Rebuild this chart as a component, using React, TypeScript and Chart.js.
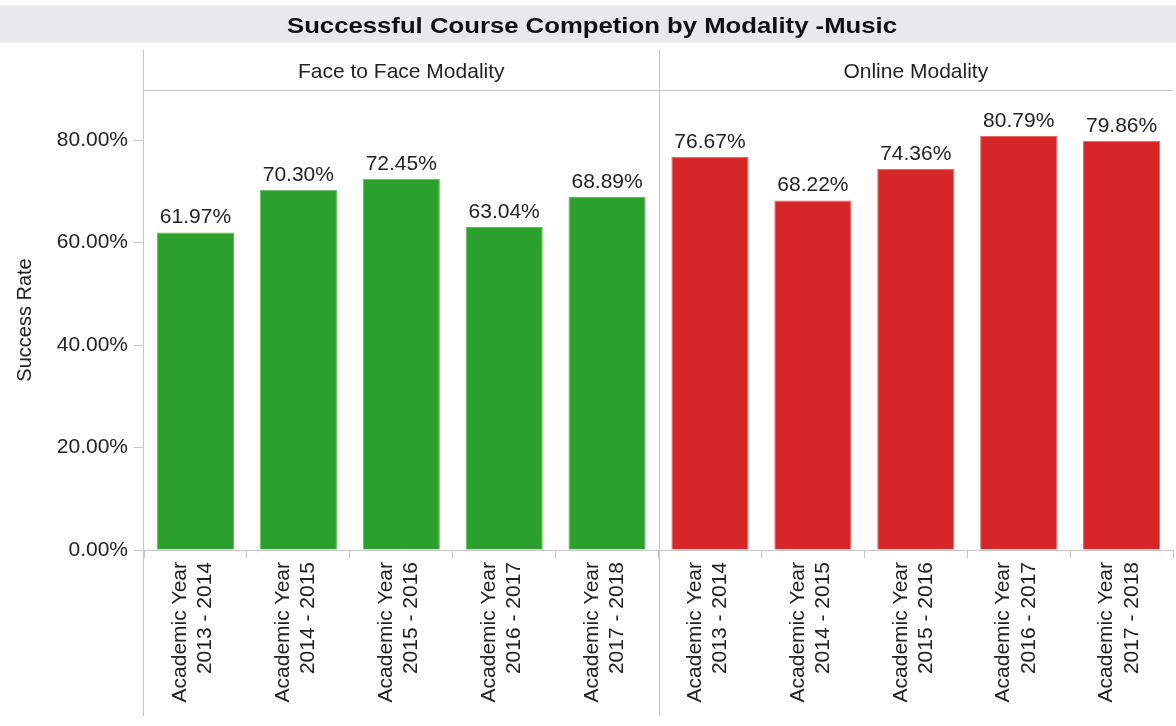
import React, { useEffect, useRef } from "react";
import { Chart, registerables } from "chart.js";

Chart.register(...registerables);

const chartTitle = "Successful Course Competion by Modality -Music";
const panelTitles = ["Face to Face Modality", "Online Modality"];
const years = [
  ["Academic Year", "2013 - 2014"],
  ["Academic Year", "2014 - 2015"],
  ["Academic Year", "2015 - 2016"],
  ["Academic Year", "2016 - 2017"],
  ["Academic Year", "2017 - 2018"],
];
const faceToFace = [61.97, 70.3, 72.45, 63.04, 68.89];
const online = [76.67, 68.22, 74.36, 80.79, 79.86];
const yTicksMax = 89.76;

const FONT = '"Liberation Sans", Arial, Helvetica, sans-serif';
const GREEN = "#2ca02c";
const RED = "#d62728";
const LINE = "#c4c4c4";

const decorPlugin = {
  id: "decor",
  beforeDraw(chart: any) {
    const { ctx, chartArea, width } = chart;
    const xs = chart.scales.x;
    ctx.save();
    // title band
    ctx.fillStyle = "#e8e9ed";
    ctx.fillRect(0, 5, width, 38);
    ctx.font = `bold 21.5px ${FONT}`;
    ctx.fillStyle = "#111";
    ctx.textBaseline = "alphabetic";
    ctx.textAlign = "center";
    const w = ctx.measureText(chartTitle).width;
    const sx = 610 / w;
    ctx.translate(592, 32.5);
    ctx.scale(sx, 1);
    ctx.fillText(chartTitle, 0, 0);
    ctx.restore();

    ctx.save();
    const n = faceToFace.length;
    const divider = (xs.getPixelForValue(n - 1) + xs.getPixelForValue(n)) / 2;
    const left = chartArea.left;
    const right = chartArea.right;
    // panel headers
    ctx.font = `21px ${FONT}`;
    ctx.fillStyle = "#222";
    ctx.textAlign = "center";
    ctx.textBaseline = "alphabetic";
    ctx.fillText(panelTitles[0], (left + divider) / 2, 78);
    ctx.fillText(panelTitles[1], (divider + right) / 2, 78);
    // lines
    ctx.strokeStyle = LINE;
    ctx.lineWidth = 1;
    ctx.beginPath();
    ctx.moveTo(left - 0.5, 50);
    ctx.lineTo(left - 0.5, 716);
    ctx.moveTo(Math.round(divider) + 0.5, 50);
    ctx.lineTo(Math.round(divider) + 0.5, 716);
    ctx.moveTo(left, 90.5);
    ctx.lineTo(right, 90.5);
    ctx.stroke();
    ctx.restore();
  },
  afterDatasetsDraw(chart: any) {
    const { ctx } = chart;
    ctx.save();
    ctx.font = `21px ${FONT}`;
    ctx.fillStyle = "#222";
    ctx.textAlign = "center";
    ctx.textBaseline = "alphabetic";
    chart.data.datasets.forEach((ds: any, di: number) => {
      const meta = chart.getDatasetMeta(di);
      meta.data.forEach((bar: any, i: number) => {
        const v = ds.data[i];
        if (v === null || v === undefined) return;
        ctx.fillText(v.toFixed(2) + "%", bar.x, bar.y - 9);
      });
    });
    ctx.restore();
  },
};

export default function App() {
  const ref = useRef<HTMLCanvasElement | null>(null);
  useEffect(() => {
    if (!ref.current) return;
    const labels = [...years, ...years];
    const pad = faceToFace.map(() => null);
    const chart = new Chart(ref.current, {
      type: "bar",
      data: {
        labels,
        datasets: [
          {
            label: panelTitles[0],
            data: [...faceToFace, ...online.map(() => null)],
            backgroundColor: GREEN,
            borderColor: "#5cbc5c",
            borderWidth: 1,
            skipNull: true,
          } as any,
          {
            label: panelTitles[1],
            data: [...pad, ...online],
            backgroundColor: RED,
            borderColor: "#e66a6a",
            borderWidth: 1,
            skipNull: true,
          } as any,
        ],
      },
      options: {
        animation: false,
        responsive: false,
        maintainAspectRatio: false,
        layout: { padding: { top: 90, left: 0, right: 0, bottom: 0 } },
        plugins: {
          legend: { display: false },
          tooltip: { enabled: false },
        },
        datasets: { bar: { categoryPercentage: 1, barPercentage: 0.75 } },
        scales: {
          x: {
            grid: {
              drawOnChartArea: false,
              drawTicks: true,
              tickLength: 8,
              offset: true,
              color: LINE,
            },
            border: { display: true, color: LINE },
            ticks: {
              autoSkip: false,
              minRotation: 90,
              maxRotation: 90,
              labelOffset: -15,
              padding: 4,
              color: "#222",
              font: { family: FONT, size: 21 },
            },
            afterFit: (s: any) => {
              s.height = 176;
            },
          },
          y: {
            min: 0,
            max: yTicksMax,
            grid: {
              drawOnChartArea: false,
              drawTicks: true,
              tickLength: 10,
              color: LINE,
            },
            border: { display: false },
            ticks: {
              stepSize: 20,
              includeBounds: false,
              padding: 6,
              color: "#222",
              font: { family: FONT, size: 21 },
              callback: (v: any) => Number(v).toFixed(2) + "%",
            },
            title: {
              display: true,
              text: "Success Rate",
              color: "#222",
              font: { family: FONT, size: 20 },
              padding: { top: 13, bottom: 0 },
            },
            afterFit: (s: any) => {
              s.width = 144;
            },
          },
        },
      },
      plugins: [decorPlugin],
    });
    return () => chart.destroy();
  }, []);
  return (
    <div style={{ position: "fixed", left: 0, top: 0, width: 1176, height: 726, background: "#fff" }}>
      <canvas ref={ref} width={1176} height={726} style={{ display: "block" }} />
    </div>
  );
}
